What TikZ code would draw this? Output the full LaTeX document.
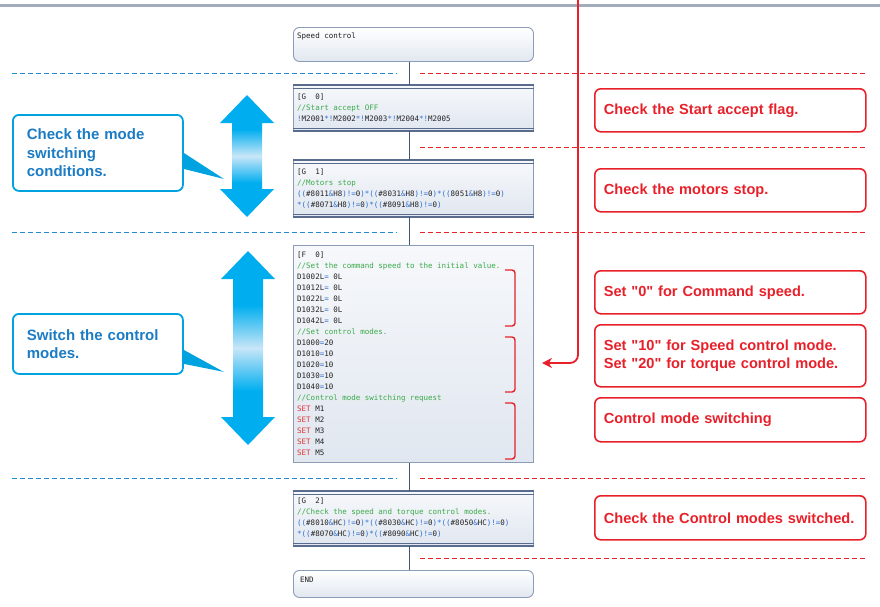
\documentclass[tikz,border=0pt]{standalone}
\usepackage{fontspec}
\setmainfont{Liberation Sans}[Ligatures=TeXOff]
\newfontfamily\codefont{DejaVu Sans Mono}
\usetikzlibrary{positioning,arrows.meta}

\definecolor{flowline}{HTML}{44547A}
\definecolor{boxedge}{HTML}{8C9BB6}
\definecolor{boxdark}{HTML}{5A6C8E}
\definecolor{boxfill}{HTML}{E1E7F0}
\definecolor{boxtop}{HTML}{F6F8FB}
\definecolor{codeink}{HTML}{222222}
\definecolor{codegreen}{HTML}{3BAA4A}
\definecolor{codeblue}{HTML}{2F6FD0}
\definecolor{codered}{HTML}{E03535}
\definecolor{notered}{HTML}{E8202A}
\definecolor{hintblue}{HTML}{00A3E0}
\definecolor{hinttext}{HTML}{1B7CC4}
\definecolor{sepblue}{HTML}{1E8BD2}
\definecolor{sepred}{HTML}{E8202A}
\definecolor{topgray}{HTML}{A2ACBA}
\definecolor{arrowblue}{HTML}{00AEEF}
\definecolor{arrowpale}{HTML}{C8E6F8}

\pgfdeclareverticalshading{arrowfade}{100bp}{color(0bp)=(arrowblue); color(25bp)=(arrowblue);
  color(39bp)=(arrowblue); color(50bp)=(arrowpale); color(61bp)=(arrowblue);
  color(75bp)=(arrowblue); color(100bp)=(arrowblue)}

% code colouring
\newcommand\op[1]{\textcolor{codeblue}{#1}}
\newcommand\cmt[1]{\textcolor{codegreen}{#1}}
\newcommand\kw[1]{\textcolor{codered}{#1}}
\newcommand\chk[2]{\op{((}#1\op{\&}#2\op{)!=}0\op{)}}
% up/down arrow at x #1 from #2 to #3
\newcommand\vdblarrow[3]{%
  \shade[shading=arrowfade] (#1,#2) -- (#1+27,#2+28) -- (#1+15,#2+28) -- (#1+15,#3-28)
    -- (#1+27,#3-28) -- (#1,#3) -- (#1-27,#3-28) -- (#1-15,#3-28) -- (#1-15,#2+28)
    -- (#1-27,#2+28) -- cycle;}

\begin{document}
\begin{tikzpicture}[x=1pt,y=-1pt,
	flow/.style={draw=flowline,line width=1.3},
	termbox/.style={draw=boxedge,line width=0.9,rounded corners=6,top color=white,
		bottom color=boxfill,minimum width=240,inner sep=0,anchor=north west},
	stepbox/.style={draw=boxedge,line width=0.9,top color=boxtop,bottom color=boxfill,
		minimum width=240,inner sep=0,anchor=north west},
	codetext/.style={inner sep=0,align=left,text=codeink,
		font=\codefont\fontsize{7.5}{11}\selectfont},
	notebox/.style={draw=notered,line width=1.6,rounded corners=6,text=notered,
		font=\bfseries\fontsize{14.6}{18}\selectfont,align=left,text width=253,
		inner xsep=9,inner ysep=0,anchor=north west},
	hintbox/.style={draw=hintblue,line width=1.8,rounded corners=6,fill=white,
		text=hinttext,font=\bfseries\fontsize{15}{18.5}\selectfont,align=left,
		text width=142,inner xsep=14,inner ysep=0,minimum width=170,anchor=north west},
	redbrace/.style={draw=notered,line width=1.4,rounded corners=3},
	bluesep/.style={draw=sepblue,line width=1,dash pattern=on 5 off 3},
	redsep/.style={draw=sepred,line width=1,dash pattern=on 5 off 3},
	sigline/.style={draw=notered,line width=1.8,rounded corners=8,
		-{Stealth[length=10,width=10]}}]
\useasboundingbox (0,0) rectangle (880,606);
\draw[topgray,line width=2.5] (0,5.3) -- (880,5.3);

% separators
\foreach \y in {73,232,478} {
	\draw[bluesep] (12,\y) -- (397,\y);
	\draw[redsep] (420,\y) -- (866,\y);
}
\foreach \y in {147,558}
	\draw[redsep] (420,\y) -- (866,\y);

% program boxes
\node[termbox,minimum height=34] (start) at (293,27) {};
\node[stepbox,minimum height=45] (g0) at (293,85) {};
\node[stepbox,minimum height=56] (g1) at (293,160) {};
\node[stepbox,minimum height=217] (f0) at (293,245) {};
\node[stepbox,minimum height=54] (g2) at (293,491) {};
\node[termbox,minimum height=27] (fin) at (293,570) {};
\foreach \g in {g0,g1,g2} {
	\draw[boxdark,line width=1.2] (\g.north west) -- (\g.north east);
	\draw[boxdark,line width=0.8] ([yshift=-3pt]\g.north west) -- ([yshift=-3pt]\g.north east);
	\draw[boxdark,line width=1.2] (\g.south west) -- (\g.south east);
	\draw[boxdark,line width=0.8] ([yshift=3pt]\g.south west) -- ([yshift=3pt]\g.south east);
}

\draw[flow] ([xshift=-4pt]start.south) -- ([xshift=-4pt]g0.north);
\draw[flow] ([xshift=-4pt]g0.south) -- ([xshift=-4pt]g1.north);
\draw[flow] ([xshift=-4pt]g1.south) -- ([xshift=-4pt]f0.north);
\draw[flow] ([xshift=-4pt]f0.south) -- ([xshift=-4pt]g2.north);
\draw[flow] ([xshift=-4pt]g2.south) -- ([xshift=-4pt]fin.north);

% program text
\node[codetext,below right=5.5pt and 4pt of start.north west] (starttxt) {Speed control};
\node[codetext,below right=9pt and 4pt of g0.north west] (g0txt) {[G~~0]\\
\cmt{//Start accept OFF}\\
\op{!}M2001\op{*!}M2002\op{*!}M2003\op{*!}M2004\op{*!}M2005};
\node[codetext,below right=9pt and 4pt of g1.north west] (g1txt) {[G~~1]\\
\cmt{//Motors stop}\\
\chk{\#8011}{H8}\op{*}\chk{\#8031}{H8}\op{*}\chk{8051}{H8}\\
\op{*}\chk{\#8071}{H8}\op{*}\chk{\#8091}{H8}};
\node[codetext,below right=7pt and 4pt of f0.north west] (f0txt) {[F~~0]\\
\cmt{//Set the command speed to the initial value.}\\
D1002L\op{=}~0L\\
D1012L\op{=}~0L\\
D1022L\op{=}~0L\\
D1032L\op{=}~0L\\
D1042L\op{=}~0L\\
\cmt{//Set control modes.}\\
D1000\op{=}20\\
D1010\op{=}10\\
D1020\op{=}10\\
D1030\op{=}10\\
D1040\op{=}10\\
\cmt{//Control mode switching request}\\
\kw{SET} M1\\
\kw{SET} M2\\
\kw{SET} M3\\
\kw{SET} M4\\
\kw{SET} M5};
\node[codetext,below right=7pt and 4pt of g2.north west] (g2txt) {[G~~2]\\
\cmt{//Check the speed and torque control modes.}\\
\chk{\#8010}{HC}\op{*}\chk{\#8030}{HC}\op{*}\chk{\#8050}{HC}\\
\op{*}\chk{\#8070}{HC}\op{*}\chk{\#8090}{HC}};
\node[codetext,below right=7pt and 7pt of fin.north west] (fintxt) {END};

% braces on the F 0 block
\foreach \a/\b in {270/326,337/392,403/459}
	\draw[redbrace] (505,\a) -- (515,\a) -- (515,\b) -- (505,\b);

% explanations
\node[notebox,minimum height=43] (n0) at (594,88) {Check the Start accept flag.};
\node[notebox,minimum height=43] (n1) at (594,168) {Check the motors stop.};
\node[notebox,minimum height=43] (n2) at (594,270) {Set "0" for Command speed.};
\node[notebox,minimum height=62] (n3) at (594,324) {Set "10" for Speed control mode.\\Set "20" for torque control mode.};
\node[notebox,minimum height=44] (n4) at (594,397) {Control mode switching};
\node[notebox,minimum height=44] (n5) at (594,495) {Check the Control modes switched.};

\coordinate (sigtop) at (578,0);
\coordinate (sigtip) at (542,363);
\draw[sigline] (sigtop) |- (sigtip);

% blue arrows and callouts
\vdblarrow{247}{95}{217}
\vdblarrow{248}{251}{445}
\node[hintbox,minimum height=76] (h0) at (12,114) {Check the mode\\switching\\conditions.};
\fill[hintblue] (h0.east) -- ++(40,26) -- ++(-40,-10) -- cycle;
\node[hintbox,minimum height=60] (h1) at (12,313) {Switch the control\\modes.};
\fill[hintblue] ([yshift=-6pt]h1.east) -- ++(40,22) -- ++(-40,-8) -- cycle;
\end{tikzpicture}
\end{document}
